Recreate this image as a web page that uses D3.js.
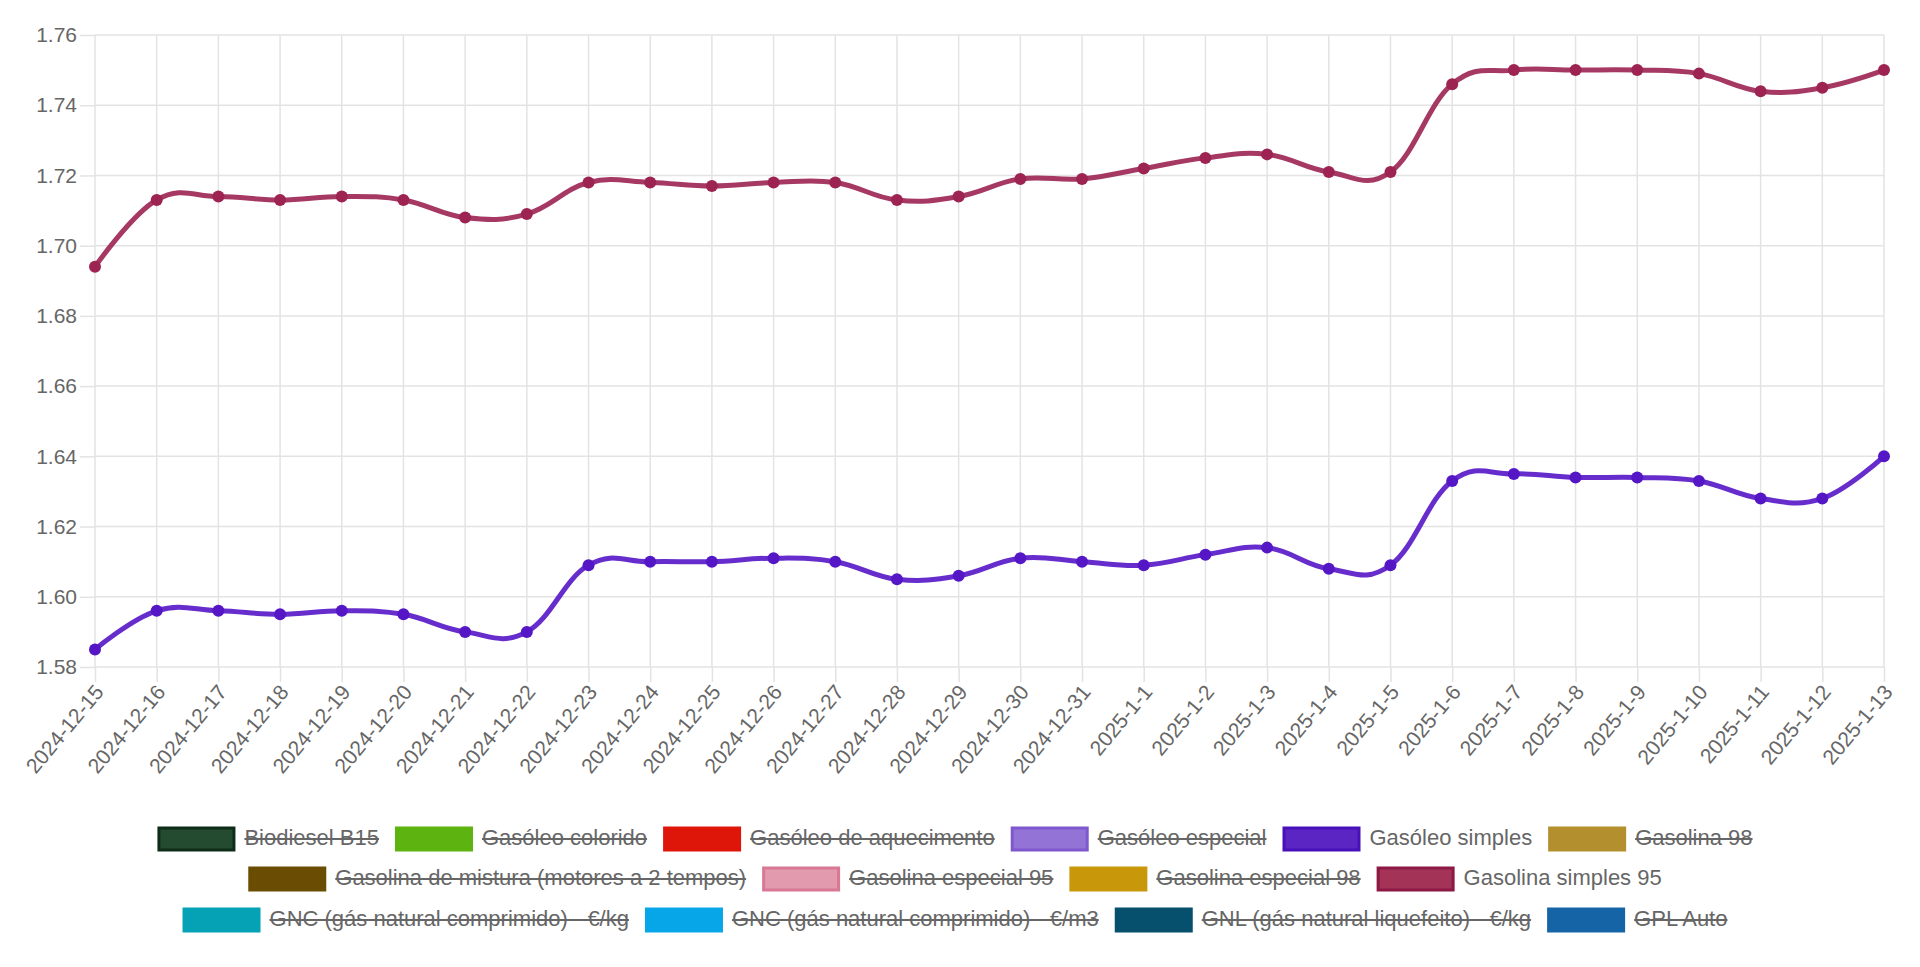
<!DOCTYPE html>
<html><head><meta charset="utf-8">
<script src="https://cdn.jsdelivr.net/npm/d3@7"></script>
<style>
html,body{margin:0;padding:0;background:#fff;}
svg{display:block;}
text{font-family:"Liberation Sans",Arial,Helvetica,sans-serif;fill:#666;}
</style></head>
<body>
<svg id="chart" width="1920" height="967"></svg>
<script>
const categories = ["2024-12-15","2024-12-16","2024-12-17","2024-12-18","2024-12-19","2024-12-20","2024-12-21","2024-12-22","2024-12-23","2024-12-24","2024-12-25","2024-12-26","2024-12-27","2024-12-28","2024-12-29","2024-12-30","2024-12-31","2025-1-1","2025-1-2","2025-1-3","2025-1-4","2025-1-5","2025-1-6","2025-1-7","2025-1-8","2025-1-9","2025-1-10","2025-1-11","2025-1-12","2025-1-13"];
const gasolinaSimples95 = [1.694,1.713,1.714,1.713,1.714,1.713,1.708,1.709,1.718,1.718,1.717,1.718,1.718,1.713,1.714,1.719,1.719,1.722,1.725,1.726,1.721,1.721,1.746,1.750,1.750,1.750,1.749,1.744,1.745,1.750];
const gasoleoSimples = [1.585,1.596,1.596,1.595,1.596,1.595,1.590,1.590,1.609,1.610,1.610,1.611,1.610,1.605,1.606,1.611,1.610,1.609,1.612,1.614,1.608,1.609,1.633,1.635,1.634,1.634,1.633,1.628,1.628,1.640];
const yTicks = [1.58,1.60,1.62,1.64,1.66,1.68,1.70,1.72,1.74,1.76];
const legendLabels = ["Biodiesel B15","Gasóleo colorido","Gasóleo de aquecimento","Gasóleo especial","Gasóleo simples","Gasolina 98","Gasolina de mistura (motores a 2 tempos)","Gasolina especial 95","Gasolina especial 98","Gasolina simples 95","GNC (gás natural comprimido) - €/kg","GNC (gás natural comprimido) - €/m3","GNL (gás natural liquefeito) - €/kg","GPL Auto"];
const legendFill = ["#244b30","#5db30f","#de1509","#9373d6","#5b25c4","#b48f2e","#6a4c02","#e29aae","#c8980a","#a33458","#05a2b6","#07a6e9","#064f6d","#1464a6"];
const legendStroke = ["#0e2d18","#5db30f","#de1509","#7f58cd","#4710b9","#b48f2e","#6a4c02","#d87894","#c8980a","#8c1843","#05a2b6","#07a6e9","#064f6d","#1464a6"];
const legendHidden = [true,true,true,true,false,true,true,true,true,false,true,true,true,true];
const legendRowSizes = [6,4,4];

const series = [
  {name:"Gasolina simples 95", values: gasolinaSimples95, color:"#9c2352"},
  {name:"Gasóleo simples", values: gasoleoSimples, color:"#5516c6"}
];

const svg = d3.select("#chart");
const plot = {left:95, right:1884, top:35, bottom:667};

const x = d3.scalePoint().domain(categories).range([plot.left, plot.right]);
const y = d3.scaleLinear().domain([1.58,1.76]).range([plot.bottom, plot.top]);

const gridColor = "#e3e3e3";
const tickLen = 15;
const tickFont = 21;

// horizontal grid
const yAxis = d3.axisLeft(y).tickValues(yTicks).tickFormat(d3.format(".2f"))
  .tickSize(tickLen).tickPadding(3);
const gy = svg.append("g").attr("transform",`translate(${plot.left},0)`).call(yAxis);
gy.select(".domain").remove();
gy.selectAll(".tick line").attr("stroke",gridColor).attr("stroke-width",1.5);
gy.selectAll(".tick text").attr("font-size",tickFont).attr("fill","#666");
svg.append("g").selectAll("line").data(yTicks).join("line")
  .attr("x1",plot.left).attr("x2",plot.right)
  .attr("y1",d=>y(d)).attr("y2",d=>y(d))
  .attr("stroke",gridColor).attr("stroke-width",1.5);

// vertical grid + x axis
const xAxis = d3.axisBottom(x).tickSize(tickLen).tickPadding(4);
const gx = svg.append("g").attr("transform",`translate(0,${plot.bottom})`).call(xAxis);
gx.select(".domain").remove();
gx.selectAll(".tick line").attr("stroke",gridColor).attr("stroke-width",1.5);
gx.selectAll(".tick text").attr("font-size",tickFont).attr("fill","#666")
  .attr("text-anchor","end").attr("dy",null).attr("y",0)
  .attr("transform","translate(5,22) rotate(-50)")
  .attr("dominant-baseline","middle");
svg.append("g").selectAll("line").data(categories).join("line")
  .attr("x1",d=>x(d)).attr("x2",d=>x(d))
  .attr("y1",plot.top).attr("y2",plot.bottom)
  .attr("stroke",gridColor).attr("stroke-width",1.5);

// lines
const line = d3.line().x((d,i)=>x(categories[i])).y(d=>y(d)).curve(d3.curveCardinal.tension(-0.2));
series.forEach(s=>{
  svg.append("path").datum(s.values).attr("d",line)
    .attr("fill","none").attr("stroke",s.color).attr("stroke-width",5).attr("stroke-opacity",0.9);
  svg.append("g").selectAll("circle").data(s.values).join("circle")
    .attr("cx",(d,i)=>x(categories[i])).attr("cy",d=>y(d)).attr("r",6)
    .attr("fill",s.color);
});

// legend
const fontSize = 22, boxW = 78, boxH = 25, textGap = 9, itemGap = 16, centerX = 955;
const rowY = [839, 879, 920];
const lg = svg.append("g");
const measure = lg.append("text").attr("font-size",fontSize);
const widths = legendLabels.map(t=>{measure.text(t); return measure.node().getComputedTextLength();});
measure.remove();
let idx = 0;
legendRowSizes.forEach((n,r)=>{
  const items = d3.range(idx, idx+n);
  const total = d3.sum(items, i=>boxW+textGap+widths[i]) + itemGap*(n-1);
  let cx = centerX - total/2;
  items.forEach(i=>{
    const g = lg.append("g");
    g.append("rect").attr("x",cx+1.5).attr("y",rowY[r]-boxH/2+1.5).attr("width",boxW-3).attr("height",boxH-3)
      .attr("fill",legendFill[i]).attr("stroke",legendStroke[i]).attr("stroke-width",3);
    const tx = cx+boxW+textGap;
    g.append("text").attr("x",tx).attr("y",rowY[r]).attr("dominant-baseline","middle")
      .attr("font-size",fontSize).attr("fill","#666").text(legendLabels[i]);
    if(legendHidden[i]){
      g.append("line").attr("x1",tx).attr("x2",tx+widths[i]).attr("y1",rowY[r]).attr("y2",rowY[r])
        .attr("stroke","#666").attr("stroke-width",2);
    }
    cx += boxW+textGap+widths[i]+itemGap;
  });
  idx += n;
});
</script>
</body></html>
